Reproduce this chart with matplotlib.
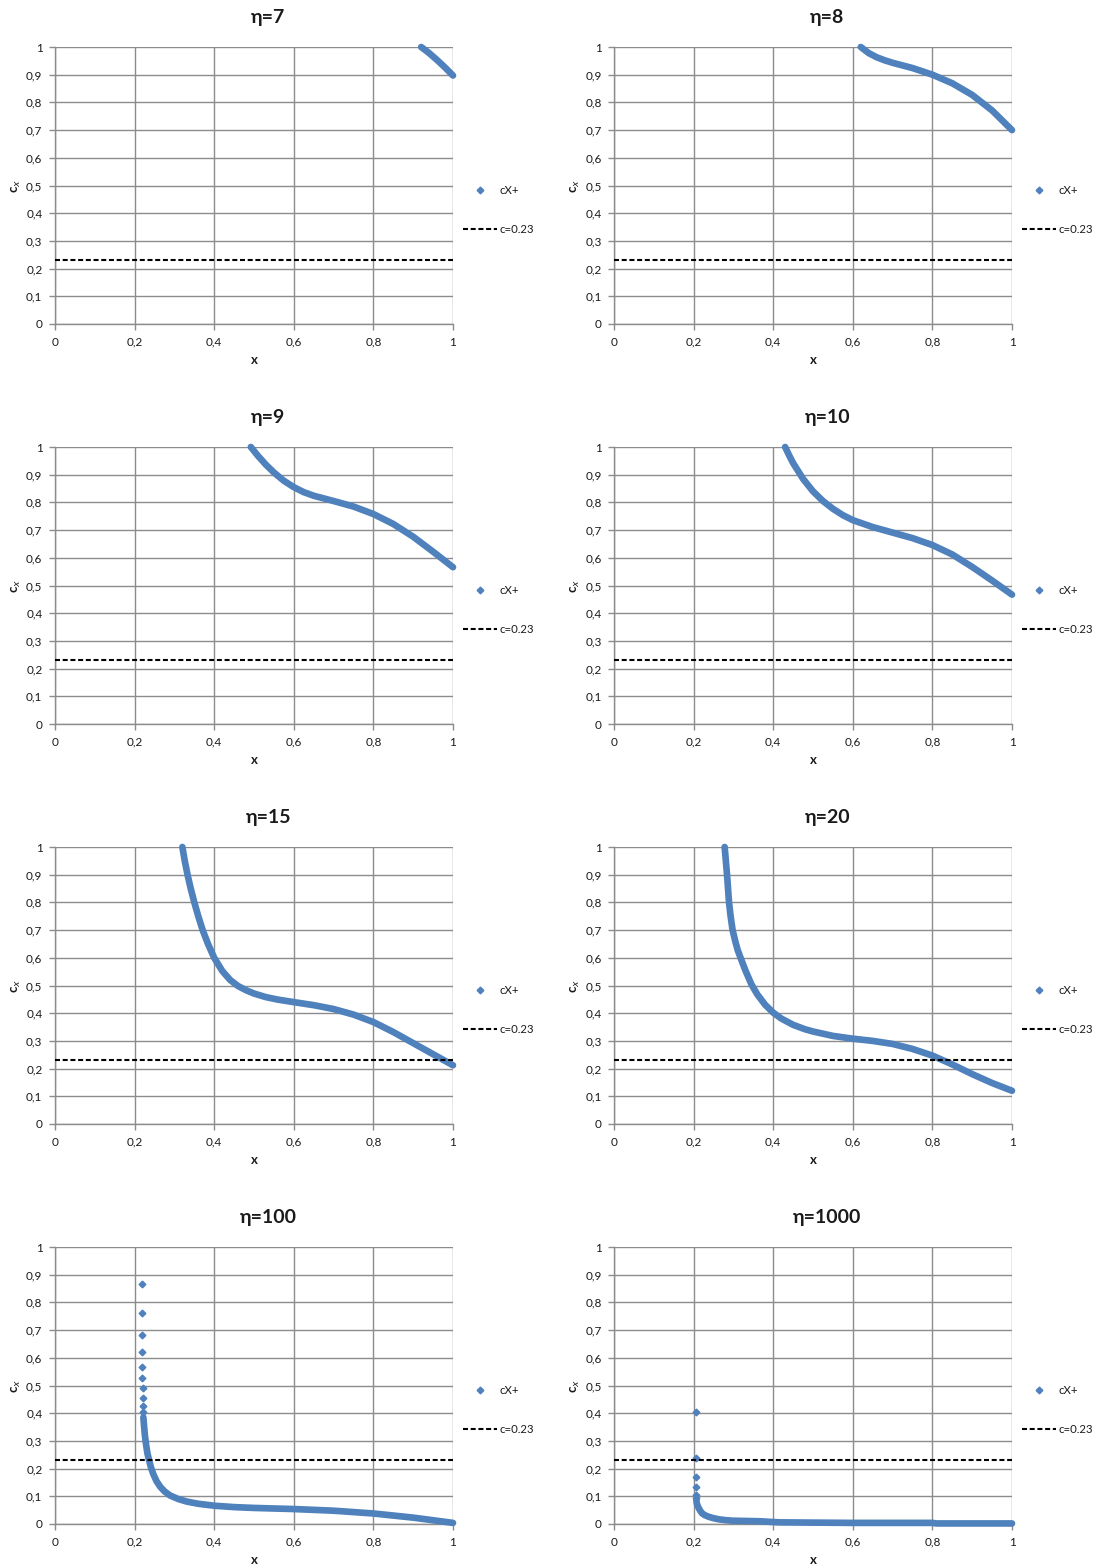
import matplotlib
matplotlib.use("Agg")
import matplotlib.pyplot as plt
from matplotlib.ticker import FixedLocator, FuncFormatter
from matplotlib.lines import Line2D

plt.rcParams["font.family"] = ["Lato", "DejaVu Sans"]

# etas shown in the eight panels
etas = [7, 8, 9, 10, 15, 20, 100, 1000]
c_level = 0.23

# dense part of each curve
x_eta7 = [0.920, 0.940, 0.960, 0.980, 1.000]
y_eta7 = [1.000, 0.978, 0.953, 0.926, 0.897]

x_eta8 = [0.620, 0.640, 0.660, 0.680, 0.700, 0.750, 0.800, 0.850, 0.900, 0.950, 1.000]
y_eta8 = [1.000, 0.978, 0.963, 0.952, 0.943, 0.924, 0.900, 0.869, 0.827, 0.771, 0.700]

x_eta9 = [0.492, 0.510, 0.530, 0.550, 0.575, 0.600, 0.625, 0.650, 0.700, 0.750, 0.800,
          0.850, 0.900, 0.950, 1.000]
y_eta9 = [1.000, 0.968, 0.936, 0.908, 0.878, 0.855, 0.837, 0.824, 0.805, 0.785, 0.758,
          0.722, 0.676, 0.622, 0.566]

x_eta10 = [0.430, 0.440, 0.450, 0.475, 0.500, 0.525, 0.550, 0.575, 0.600, 0.650, 0.700,
           0.750, 0.800, 0.850, 0.900, 0.950, 1.000]
y_eta10 = [1.000, 0.970, 0.942, 0.885, 0.840, 0.805, 0.777, 0.754, 0.736, 0.711, 0.691,
           0.671, 0.646, 0.612, 0.567, 0.518, 0.467]

x_eta15 = [0.320, 0.326, 0.333, 0.341, 0.350, 0.360, 0.371, 0.385, 0.400, 0.420, 0.440,
           0.460, 0.480, 0.500, 0.530, 0.560, 0.600, 0.650, 0.700, 0.750, 0.800, 0.850,
           0.900, 0.950, 1.000]
y_eta15 = [1.000, 0.950, 0.900, 0.850, 0.800, 0.750, 0.700, 0.648, 0.600, 0.553, 0.520,
           0.498, 0.483, 0.471, 0.458, 0.449, 0.440, 0.429, 0.415, 0.395, 0.368, 0.332,
           0.292, 0.252, 0.212]

x_eta20 = [0.278, 0.281, 0.284, 0.2865, 0.289, 0.293, 0.298, 0.305, 0.311, 0.318, 0.330,
           0.345, 0.360, 0.380, 0.400, 0.420, 0.450, 0.480, 0.500, 0.550, 0.600, 0.650,
           0.700, 0.750, 0.800, 0.850, 0.900, 0.950, 1.000]
y_eta20 = [1.000, 0.950, 0.900, 0.850, 0.800, 0.750, 0.700, 0.658, 0.627, 0.600, 0.555,
           0.505, 0.468, 0.430, 0.402, 0.381, 0.358, 0.342, 0.334, 0.318, 0.308, 0.300,
           0.289, 0.271, 0.247, 0.215, 0.180, 0.148, 0.120]

x_eta100 = [0.222, 0.224, 0.226, 0.229, 0.232, 0.236, 0.241, 0.247, 0.255, 0.264, 0.275,
            0.289, 0.310, 0.331, 0.360, 0.400, 0.450, 0.500, 0.600, 0.700, 0.800, 0.900, 1.000]
y_eta100 = [0.385, 0.350, 0.318, 0.285, 0.257, 0.232, 0.205, 0.180, 0.155, 0.135, 0.118,
            0.103, 0.090, 0.081, 0.073, 0.066, 0.061, 0.058, 0.054, 0.048, 0.038, 0.023, 0.004]

x_eta1000 = [0.207, 0.208, 0.210, 0.213, 0.217, 0.221, 0.228, 0.238, 0.250, 0.263, 0.280,
             0.297, 0.330, 0.364, 0.414, 0.500, 0.600, 0.700, 0.800, 0.810, 0.900, 1.000]
y_eta1000 = [0.085, 0.075, 0.066, 0.057, 0.047, 0.039, 0.032, 0.026, 0.021, 0.017, 0.014,
             0.012, 0.011, 0.010, 0.006, 0.005, 0.004, 0.004, 0.004, 0.002, 0.002, 0.002]

# isolated points at the steep start (eta=100 and eta=1000)
xs_eta100 = [0.218, 0.218, 0.218, 0.219, 0.219, 0.219, 0.220, 0.220, 0.221, 0.221]
ys_eta100 = [0.865, 0.763, 0.682, 0.622, 0.568, 0.526, 0.490, 0.456, 0.427, 0.405]

xs_eta1000 = [0.205, 0.205, 0.205, 0.206, 0.206, 0.206]
ys_eta1000 = [0.404, 0.237, 0.169, 0.132, 0.105, 0.093]

curves = [(x_eta7, y_eta7), (x_eta8, y_eta8), (x_eta9, y_eta9), (x_eta10, y_eta10),
          (x_eta15, y_eta15), (x_eta20, y_eta20), (x_eta100, y_eta100), (x_eta1000, y_eta1000)]
sparse = {6: (xs_eta100, ys_eta100), 7: (xs_eta1000, ys_eta1000)}

x_ticks = [0, 0.2, 0.4, 0.6, 0.8, 1.0]
y_ticks = [0, 0.1, 0.2, 0.3, 0.4, 0.5, 0.6, 0.7, 0.8, 0.9, 1.0]

blue = "#4F81BD"
grid_c = "#8C8C8C"
text_c = "#1a1a1a"
dash = (0, (2.4, 1.3))

W, H = 1104, 1568
fig = plt.figure(figsize=(W / 100, H / 100), dpi=100)


def comma(v, pos):
    s = "%g" % round(v, 2)
    return s.replace(".", ",")


for i, eta in enumerate(etas):
    row, col = divmod(i, 2)
    left_px = 55 if col == 0 else 614
    top_px = 47 + 400 * row
    ax = fig.add_axes([left_px / W, 1 - (top_px + 277) / H, 398 / W, 277 / H])
    ax.set_xlim(0, 1)
    ax.set_ylim(0, 1)
    ax.xaxis.set_major_locator(FixedLocator(x_ticks))
    ax.yaxis.set_major_locator(FixedLocator(y_ticks))
    ax.xaxis.set_major_formatter(FuncFormatter(comma))
    ax.yaxis.set_major_formatter(FuncFormatter(comma))
    ax.grid(True, color=grid_c, lw=1.0)
    ax.set_axisbelow(True)
    for s in ["top", "right"]:
        ax.spines[s].set_visible(False)
    for s in ["left", "bottom"]:
        ax.spines[s].set_color(grid_c)
        ax.spines[s].set_linewidth(1.0)
    ax.tick_params(length=4, width=1, color=grid_c, labelsize=8.5, labelcolor=text_c, pad=5)

    xs, ys = curves[i]
    ax.plot(xs, ys, color=blue, lw=4.8, solid_capstyle="round", solid_joinstyle="round",
            clip_on=False, zorder=3)
    if i in sparse:
        sx, sy = sparse[i]
        ax.plot(sx, sy, ls="none", marker="D", ms=3.4, color=blue, mec=blue, zorder=3)
    ax.axhline(c_level, color="black", lw=1.5, ls=dash, zorder=4)

    ax.text(0.536, 1 + 30 / 277, "η=%d" % eta, transform=ax.transAxes, ha="center",
            va="center", fontsize=14, fontweight="bold", color=text_c)
    ax.set_xlabel("x", fontsize=9.5, fontweight="bold", color=text_c, labelpad=5)
    ax.set_ylabel("c$_x$", fontsize=9.5, fontweight="bold", color=text_c, labelpad=2)

    handles = [Line2D([], [], ls="none", marker="D", ms=3.4, color=blue),
               Line2D([], [], color="black", lw=1.5, ls=dash)]
    ax.legend(handles, ["cX+", "c=0.23"], loc="center left", bbox_to_anchor=(1.013, 0.413),
              borderaxespad=0, frameon=False, fontsize=8.2, handlelength=3.0,
              handletextpad=0.25, labelspacing=2.45, labelcolor=text_c)

fig.savefig("out.png", dpi=100)
